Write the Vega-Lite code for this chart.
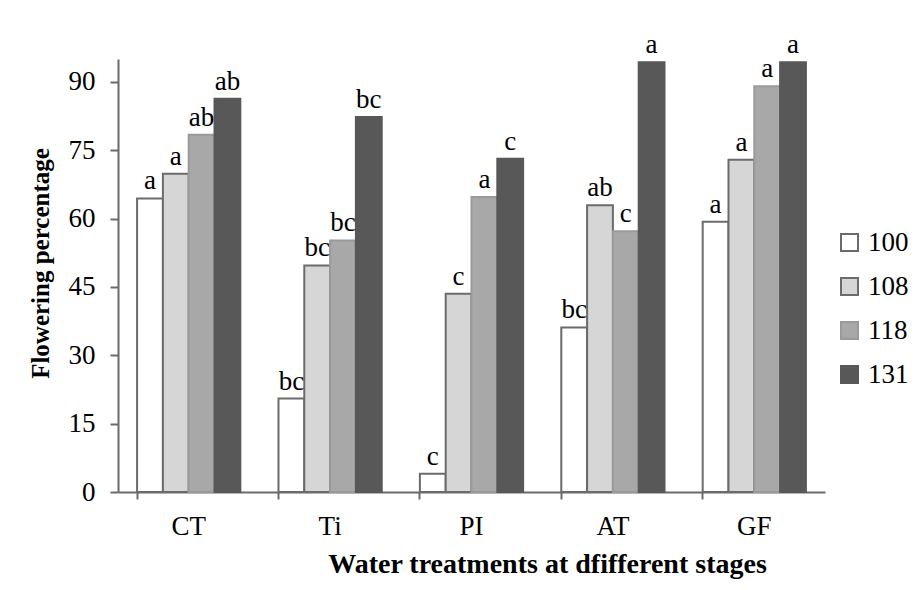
{
  "$schema": "https://vega.github.io/schema/vega-lite/v6.json",
  "width": 707,
  "height": 433,
  "autosize": {"type": "none"},
  "padding": {"left": 118, "top": 59, "right": 92, "bottom": 98},
  "background": "white",
  "config": {
    "font": "Liberation Serif",
    "view": {"stroke": null},
    "text": {"font": "Liberation Serif"},
    "axis": {
      "labelFont": "Liberation Serif",
      "titleFont": "Liberation Serif",
      "labelColor": "#000000",
      "titleColor": "#000000",
      "grid": false
    },
    "legend": {"labelFont": "Liberation Serif", "titleFont": "Liberation Serif"}
  },
  "data": {
    "values": [
      {"stage": "CT", "days": "100", "value": 64.4, "sig": "a"},
      {"stage": "CT", "days": "108", "value": 69.8, "sig": "a"},
      {"stage": "CT", "days": "118", "value": 78.4, "sig": "ab"},
      {"stage": "CT", "days": "131", "value": 86.3, "sig": "ab"},
      {"stage": "Ti", "days": "100", "value": 20.5, "sig": "bc"},
      {"stage": "Ti", "days": "108", "value": 49.7, "sig": "bc"},
      {"stage": "Ti", "days": "118", "value": 55.2, "sig": "bc"},
      {"stage": "Ti", "days": "131", "value": 82.3, "sig": "bc"},
      {"stage": "PI", "days": "100", "value": 4.0, "sig": "c"},
      {"stage": "PI", "days": "108", "value": 43.5, "sig": "c"},
      {"stage": "PI", "days": "118", "value": 64.7, "sig": "a"},
      {"stage": "PI", "days": "131", "value": 73.1, "sig": "c"},
      {"stage": "AT", "days": "100", "value": 36.1, "sig": "bc"},
      {"stage": "AT", "days": "108", "value": 62.9, "sig": "ab"},
      {"stage": "AT", "days": "118", "value": 57.2, "sig": "c"},
      {"stage": "AT", "days": "131", "value": 94.3, "sig": "a"},
      {"stage": "GF", "days": "100", "value": 59.3, "sig": "a"},
      {"stage": "GF", "days": "108", "value": 72.9, "sig": "a"},
      {"stage": "GF", "days": "118", "value": 89.0, "sig": "a"},
      {"stage": "GF", "days": "131", "value": 94.3, "sig": "a"}
    ]
  },
  "encoding": {
    "x": {
      "field": "stage",
      "type": "nominal",
      "sort": ["CT", "Ti", "PI", "AT", "GF"],
      "scale": {"paddingInner": 0.27, "paddingOuter": 0.135}
    },
    "xOffset": {
      "field": "days",
      "type": "nominal",
      "sort": ["100", "108", "118", "131"],
      "scale": {"paddingInner": 0, "paddingOuter": 0}
    },
    "y": {
      "field": "value",
      "type": "quantitative",
      "scale": {"domain": [0, 95], "nice": false, "zero": true},
      "axis": {
        "values": [0, 15, 30, 45, 60, 75, 90],
        "title": "Flowering percentage",
        "titleFont": "Liberation Serif",
        "titleFontSize": 25,
        "titleFontWeight": "bold",
        "titlePadding": 15,
        "titleY": 204,
        "labelFont": "Liberation Serif",
        "labelFontSize": 27,
        "labelPadding": 15,
        "tickSize": 8,
        "tickWidth": 2,
        "tickColor": "#6b6b6b",
        "domainColor": "#6b6b6b",
        "domainWidth": 2
      }
    }
  },
  "layer": [
    {
      "mark": {"type": "bar", "strokeWidth": 2},
      "encoding": {
        "x": {
          "field": "stage",
          "type": "nominal",
          "sort": ["CT", "Ti", "PI", "AT", "GF"],
          "axis": {
            "orient": "bottom",
            "title": "Water treatments at dfifferent stages",
            "titleFont": "Liberation Serif",
            "titleFontSize": 28,
            "titleFontWeight": "bold",
            "titleX": 429,
            "titlePadding": 11,
            "labelFont": "Liberation Serif",
            "labelFontSize": 27,
            "labelPadding": 21,
            "labelAngle": 0,
            "ticks": false,
            "domainColor": "#6b6b6b",
            "domainWidth": 2
          }
        },
        "fill": {
          "field": "days",
          "type": "nominal",
          "sort": ["100", "108", "118", "131"],
          "scale": {
            "domain": ["100", "108", "118", "131"],
            "range": ["#ffffff", "#d6d6d6", "#a8a8a8", "#585858"]
          },
          "legend": {
            "title": null,
            "orient": "none",
            "legendX": 718,
            "legendY": 170,
            "symbolType": "square",
            "symbolSize": 289,
            "symbolStrokeWidth": 2,
            "labelFont": "Liberation Serif",
            "labelFontSize": 27,
            "labelColor": "#000000",
            "labelOffset": 5,
            "rowPadding": 16
          }
        },
        "stroke": {
          "field": "days",
          "type": "nominal",
          "sort": ["100", "108", "118", "131"],
          "scale": {
            "domain": ["100", "108", "118", "131"],
            "range": ["#6b6b6b", "#6b6b6b", "#9a9a9a", "#585858"]
          }
        }
      }
    },
    {
      "mark": {
        "type": "text",
        "baseline": "alphabetic",
        "dy": -9,
        "font": "Liberation Serif",
        "fontSize": 27,
        "color": "#000000"
      },
      "encoding": {
        "x": {
          "field": "stage",
          "type": "nominal",
          "sort": ["CT", "Ti", "PI", "AT", "GF"],
          "axis": {
            "orient": "bottom",
            "title": null,
            "labels": false,
            "domain": false,
            "bandPosition": 0,
            "tickSize": 7,
            "tickWidth": 2,
            "tickColor": "#6b6b6b"
          }
        },
        "text": {"field": "sig"}
      }
    }
  ],
  "resolve": {"axis": {"x": "independent"}}
}
